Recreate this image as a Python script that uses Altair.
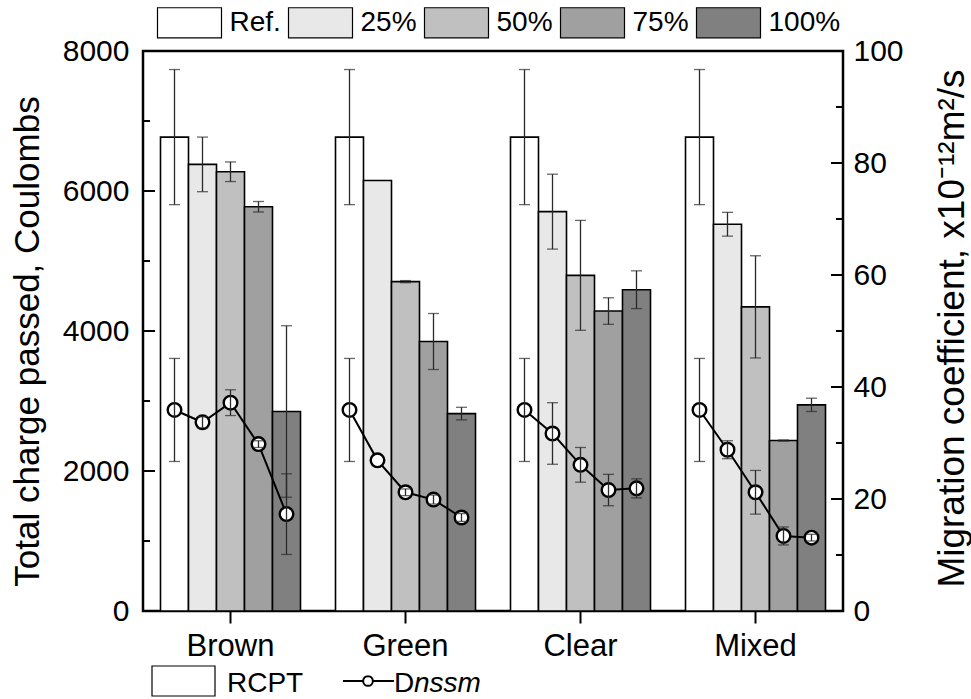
import altair as alt
import pandas as pd

FONT = "Liberation Sans"

cats = ["Brown", "Green", "Clear", "Mixed"]
levels = ["Ref.", "25%", "50%", "75%", "100%"]
level_colors = ["#ffffff", "#e8e8e8", "#c0c0c0", "#a0a0a0", "#808080"]

# Total charge passed (RCPT), Coulombs, per category in level order
charge_brown = [6770, 6380, 6275, 5775, 2850]
charge_green = [6770, 6150, 4705, 3850, 2820]
charge_clear = [6770, 5705, 4795, 4285, 4590]
charge_mixed = [6770, 5525, 4345, 2435, 2945]
charge_err_brown = [965, 390, 140, 75, 1225]
charge_err_green = [965, None, 15, 400, 90]
charge_err_clear = [965, 535, 785, 190, 270]
charge_err_mixed = [965, 170, 730, 8, 95]

# Migration coefficient Dnssm, x10^-12 m^2/s
d_brown = [35.9, 33.7, 37.2, 29.8, 17.3]
d_green = [35.9, 26.9, 21.2, 19.9, 16.7]
d_clear = [35.9, 31.7, 26.1, 21.6, 21.9]
d_mixed = [35.9, 28.8, 21.2, 13.4, 13.1]
d_err_brown = [9.2, 1.0, 2.3, 0.6, 7.2]
d_err_green = [9.2, None, 0.6, 0.8, 0.7]
d_err_clear = [9.2, 5.5, 3.1, 2.8, 1.7]
d_err_mixed = [9.2, 1.6, 3.9, 1.6, 0.6]

left_major = [0, 2000, 4000, 6000, 8000]
left_minor = [1000, 3000, 5000, 7000]
right_major = [0, 20, 40, 60, 80, 100]
right_minor = [10, 30, 50, 70, 90]

left_title = "Total charge passed, Coulombs"
right_title = "Migration coefficient, x10\u207b\u00b9\u00b2m\u00b2/s"
bottom_legend_text = ["RCPT", "D", "nssm"]

charges = [charge_brown, charge_green, charge_clear, charge_mixed]
charge_errs = [charge_err_brown, charge_err_green, charge_err_clear, charge_err_mixed]
ds = [d_brown, d_green, d_clear, d_mixed]
d_errs = [d_err_brown, d_err_green, d_err_clear, d_err_mixed]

rows, crows, drows = [], [], []
for ci, c in enumerate(cats):
    for li, l in enumerate(levels):
        rows.append(dict(cat=c, level=l, idx=li, charge=charges[ci][li], d=ds[ci][li]))
        ce = charge_errs[ci][li]
        if ce is not None:
            crows.append(dict(cat=c, level=l, lo=charges[ci][li] - ce, hi=charges[ci][li] + ce))
        de = d_errs[ci][li]
        if de is not None:
            drows.append(dict(cat=c, level=l, lo=ds[ci][li] - de, hi=ds[ci][li] + de))
df = pd.DataFrame(rows)
cerr = pd.DataFrame(crows)
derr = pd.DataFrame(drows)

X = alt.X("cat:N", sort=cats, title=None,
          scale=alt.Scale(paddingInner=0.2, paddingOuter=0.1),
          axis=alt.Axis(labelFontSize=31, labelFont=FONT, labelColor="black",
                        tickSize=12, tickColor="black", tickWidth=2, domain=False,
                        labelPadding=8, labelAngle=0))
XO = alt.XOffset("level:N", sort=levels, scale=alt.Scale(paddingInner=0, paddingOuter=0))

LS = alt.Scale(domain=[0, 8000], nice=False, zero=True)
RS = alt.Scale(domain=[0, 100], nice=False, zero=True)

LAX = alt.Axis(values=left_major, format="d", ticks=False, domain=False, grid=False,
               labelFontSize=30, labelFont=FONT, labelColor="black", labelPadding=14,
               title=left_title, titleFontSize=35, titleFont=FONT, titleFontWeight="normal",
               titleColor="black", titleX=-116, titleY=290, titleAngle=270,
               titleAlign="center", titleBaseline="middle")
RAX = alt.Axis(orient="right", values=right_major, format="d", ticks=False, domain=False,
               grid=False,
               labelFontSize=30, labelFont=FONT, labelColor="black", labelPadding=10,
               title=right_title, titleFontSize=37, titleFont=FONT, titleFontWeight="normal",
               titleColor="black", titleX=109, titleY=277, titleAngle=270,
               titleAlign="center", titleBaseline="middle")

def YL(field):
    return alt.Y(field, scale=LS, axis=LAX, title=left_title)

def YR(field):
    return alt.Y(field, scale=RS, axis=RAX, title=right_title)

rect_path = "M-1,-0.47H1V0.47H-1Z"

bars = alt.Chart(df).mark_bar(stroke="black", strokeWidth=1.6).encode(
    x=X, xOffset=XO, y=YL("charge:Q"),
    fill=alt.Fill("level:N", sort=levels,
                  scale=alt.Scale(domain=levels, range=level_colors),
                  legend=alt.Legend(orient="none", legendX=13.5, legendY=-61.5,
                                    direction="horizontal", title=None,
                                    symbolType=rect_path, symbolSize=4096,
                                    symbolStrokeColor="black", symbolStrokeWidth=1.2,
                                    symbolOpacity=1,
                                    labelFontSize=28, labelFont=FONT, labelColor="black",
                                    labelOffset=7, columnPadding=4, padding=0)),
)

ERRC = "#2a2a2a"
cerr_rule = alt.Chart(cerr).mark_rule(color=ERRC, strokeWidth=1.3).encode(
    x=X, xOffset=XO, y=YL("lo:Q"), y2="hi:Q")
cerr_lo = alt.Chart(cerr).mark_tick(color=ERRC, thickness=1.3, size=11).encode(
    x=X, xOffset=XO, y=YL("lo:Q"))
cerr_hi = alt.Chart(cerr).mark_tick(color=ERRC, thickness=1.3, size=11).encode(
    x=X, xOffset=XO, y=YL("hi:Q"))

lmaj = alt.Chart(pd.DataFrame({"v": left_major})).mark_rule(color="black", strokeWidth=2).encode(
    y=YL("v:Q"), x=alt.value(0), x2=alt.value(12))
lmin = alt.Chart(pd.DataFrame({"v": left_minor})).mark_rule(color="black", strokeWidth=2).encode(
    y=YL("v:Q"), x=alt.value(0), x2=alt.value(7))

left_group = alt.layer(bars, cerr_rule, cerr_lo, cerr_hi, lmaj, lmin)

line = alt.Chart(df).mark_line(color="black", strokeWidth=2).encode(
    x=X, xOffset=XO, y=YR("d:Q"), detail="cat:N", order="idx:Q")
pts = alt.Chart(df).mark_point(shape="circle", filled=True, fill="white", stroke="black",
                               strokeWidth=2.4, size=185, opacity=1).encode(
    x=X, xOffset=XO, y=YR("d:Q"))
derr_rule = alt.Chart(derr).mark_rule(color=ERRC, strokeWidth=1.3).encode(
    x=X, xOffset=XO, y=YR("lo:Q"), y2="hi:Q")
derr_lo = alt.Chart(derr).mark_tick(color=ERRC, thickness=1.3, size=11).encode(
    x=X, xOffset=XO, y=YR("lo:Q"))
derr_hi = alt.Chart(derr).mark_tick(color=ERRC, thickness=1.3, size=11).encode(
    x=X, xOffset=XO, y=YR("hi:Q"))

rmaj = alt.Chart(pd.DataFrame({"v": right_major})).mark_rule(color="black", strokeWidth=2).encode(
    y=YR("v:Q"), x=alt.value(700), x2=alt.value(688))
rmin = alt.Chart(pd.DataFrame({"v": right_minor})).mark_rule(color="black", strokeWidth=2).encode(
    y=YR("v:Q"), x=alt.value(700), x2=alt.value(693))

right_group = alt.layer(line, pts, derr_rule, derr_lo, derr_hi, rmaj, rmin)

# bottom legend (RCPT box, Dnssm line+circle)
one = pd.DataFrame({"k": [0]})
leg_box = alt.Chart(one).mark_rect(fill="white", stroke="black", strokeWidth=1.2).encode(
    x=alt.value(9), x2=alt.value(72), y=alt.value(615), y2=alt.value(645))
leg_rcpt = alt.Chart(pd.DataFrame({"t": [bottom_legend_text[0]]})).mark_text(
    align="left", baseline="alphabetic", fontSize=28, font=FONT, color="black").encode(
    x=alt.value(84), y=alt.value(641), text="t:N")
leg_line = alt.Chart(one).mark_rule(color="black", strokeWidth=2).encode(
    x=alt.value(200), x2=alt.value(251), y=alt.value(630))
leg_circ = alt.Chart(one).mark_point(shape="circle", filled=True, fill="white", stroke="black",
                                     strokeWidth=2, size=95, opacity=1).encode(
    x=alt.value(225), y=alt.value(630))
leg_d = alt.Chart(pd.DataFrame({"t": [bottom_legend_text[1]]})).mark_text(
    align="left", baseline="alphabetic", fontSize=28, font=FONT, color="black").encode(
    x=alt.value(251), y=alt.value(641), text="t:N")
leg_nssm = alt.Chart(pd.DataFrame({"t": [bottom_legend_text[2]]})).mark_text(
    align="left", baseline="alphabetic", fontSize=28, font=FONT, fontStyle="italic",
    color="black").encode(
    x=alt.value(271), y=alt.value(641), text="t:N")

deco = alt.layer(leg_box, leg_rcpt, leg_line, leg_circ, leg_d, leg_nssm)

chart = alt.layer(left_group, right_group, deco).resolve_scale(
    y="independent"
).properties(
    width=700, height=560,
    autosize=alt.AutoSizeParams(type="none"),
    padding={"left": 143, "top": 51, "right": 128, "bottom": 88},
    background="white",
).configure_view(
    stroke="black", strokeWidth=2.5
)

chart.save("out.html", embed_options={"renderer": "svg", "actions": False})
